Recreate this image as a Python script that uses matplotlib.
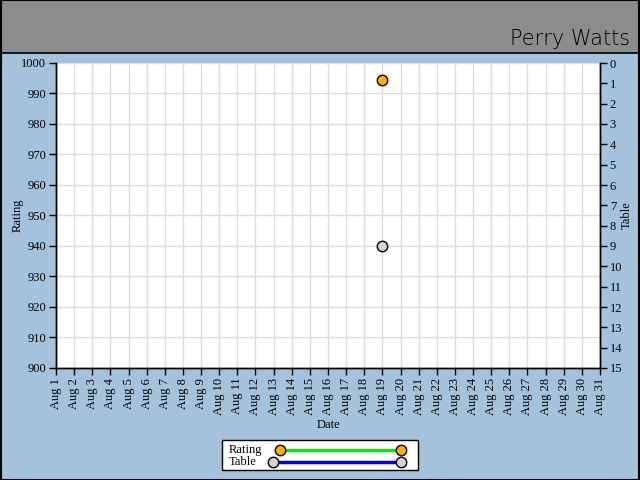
import datetime as dt
import matplotlib
matplotlib.use('Agg')
import matplotlib.pyplot as plt
import matplotlib.dates as mdates
from matplotlib.lines import Line2D
from matplotlib.patches import Rectangle

# dados
datas = [dt.date(2008, 8, 19)]
rating = [994.4]
tabela = [9]
titulo = 'Perry Watts'
series = ['Rating', 'Table']

fundo = '#a4c2dc'
cinza = '#8c8c8c'
fonte = 'Liberation Serif'
laranja, cinza_claro = '#ffb000', '#d3d3d3'
verde, azul = '#00ee00', '#0000ee'

W, H = 640, 480
fig = plt.figure(figsize=(6.4, 4.8), dpi=100, facecolor=fundo)

def fx(px):
    return px / W

def fy(py):
    return 1 - py / H

# faixa do titulo
fig.patches.append(Rectangle((0, fy(53)), 1, 53/H, transform=fig.transFigure,
                             facecolor=cinza, edgecolor='black', linewidth=1.2, zorder=0))
fig.patches.append(Rectangle((0.001, 0.001), 0.998, 0.998, transform=fig.transFigure,
                             facecolor='none', edgecolor='black', linewidth=1.5, zorder=5))
fig.text(fx(630), fy(45), titulo, ha='right', va='baseline', fontsize=15,
         family='DejaVu Sans', fontweight='light', color='black')

ax = fig.add_axes([fx(56), fy(368), 544/W, 305/H])
ax.set_facecolor('white')
ax2 = ax.twinx()

ax.plot(datas, rating, '-', color=verde, lw=2.2, marker='o', ms=7.5,
        mfc=laranja, mec='black', mew=1, zorder=3, clip_on=False)
ax2.plot(datas, tabela, '-', color=azul, lw=2.2, marker='o', ms=7.5,
         mfc=cinza_claro, mec='black', mew=1, zorder=3, clip_on=False)

ax.set_xlim(dt.date(2008, 8, 1), dt.date(2008, 8, 31))
ax.set_ylim(900, 1000)
ax.set_yticks(range(900, 1001, 10))
ax2.set_ylim(15, 0)
ax2.set_yticks(range(0, 16))

ax.xaxis.set_major_locator(mdates.DayLocator())
ax.xaxis.set_major_formatter(mdates.DateFormatter('%b %-d'))
for lab in ax.get_xticklabels():
    lab.set_rotation(90)

ax.grid(True, color='#dddddd', linewidth=1)
ax.set_axisbelow(True)

for a in (ax, ax2):
    a.tick_params(labelsize=9, length=5, width=1, direction='out', colors='black', pad=2)
    for lab in a.get_xticklabels() + a.get_yticklabels():
        lab.set_family(fonte)
    for s in a.spines.values():
        s.set_linewidth(1)
ax2.spines['top'].set_visible(False)
ax.spines['top'].set_visible(False)

ax.set_xlabel('Date', family=fonte, fontsize=9)
ax.set_ylabel('Rating', family=fonte, fontsize=9)
ax2.set_ylabel('Table', family=fonte, fontsize=9)
ax.xaxis.set_label_coords(0.5, -(419 - 368) / 305, transform=ax.transAxes)
ax.yaxis.set_label_coords(-(56 - 24) / 544, 0.5)
ax2.yaxis.set_label_coords(1 + (621 - 600) / 544, 0.5)

# legenda desenhada na mao
fig.patches.append(Rectangle((fx(222), fy(470)), 196/W, 30/H, transform=fig.transFigure,
                             facecolor='white', edgecolor='black', linewidth=1, zorder=4))
leg = [(series[0], 450, 280, verde, laranja), (series[1], 462, 273, azul, cinza_claro)]
for nome, y, x0, cor, cor_m in leg:
    fig.text(fx(229), fy(y), nome, ha='left', va='center', family=fonte, fontsize=9, zorder=6)
    fig.lines.append(Line2D([fx(x0), fx(401)], [fy(y), fy(y)], transform=fig.transFigure,
                            color=cor, lw=2.5, marker='o', ms=7.5, mfc=cor_m, mec='black',
                            mew=1, zorder=6))

fig.savefig('out.png', dpi=100, facecolor=fundo)
